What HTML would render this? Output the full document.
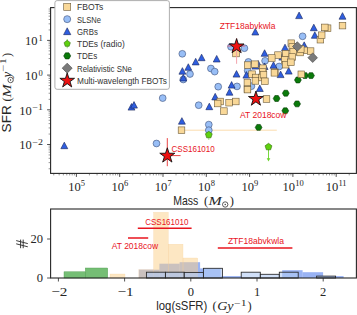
<!DOCTYPE html><html><head><meta charset="utf-8"><style>html,body{margin:0;padding:0;background:#fff;overflow:hidden}svg{display:block}</style></head><body><svg width="357" height="315" viewBox="0 0 357 315">
<rect width="357" height="315" fill="#ffffff"/>
<line x1="181.5" y1="130.2" x2="276.8" y2="130.2" stroke="#fbdcae" stroke-width="1"/>
<line x1="268.5" y1="146.8" x2="268.5" y2="159" stroke="#6ad42a" stroke-width="0.9"/>
<polygon points="266.7,158.3 270.3,158.3 268.5,161.5" fill="#6ad42a"/>
<line x1="208.8" y1="134.8" x2="208.8" y2="140" stroke="#a8e08a" stroke-width="1"/>
<circle cx="162.70" cy="98.10" r="3.4" fill="#98bef6" stroke="#3d4f78" stroke-width="0.6"/>
<circle cx="156.50" cy="143.50" r="3.4" fill="#98bef6" stroke="#3d4f78" stroke-width="0.6"/>
<circle cx="208.80" cy="124.60" r="3.4" fill="#98bef6" stroke="#3d4f78" stroke-width="0.6"/>
<circle cx="208.80" cy="130.20" r="3.4" fill="#98bef6" stroke="#3d4f78" stroke-width="0.6"/>
<circle cx="182.30" cy="53.80" r="3.4" fill="#98bef6" stroke="#3d4f78" stroke-width="0.6"/>
<circle cx="190.00" cy="74.00" r="3.4" fill="#98bef6" stroke="#3d4f78" stroke-width="0.6"/>
<circle cx="183.30" cy="79.50" r="3.4" fill="#98bef6" stroke="#3d4f78" stroke-width="0.6"/>
<circle cx="210.90" cy="68.50" r="3.4" fill="#98bef6" stroke="#3d4f78" stroke-width="0.6"/>
<circle cx="214.70" cy="71.60" r="3.4" fill="#98bef6" stroke="#3d4f78" stroke-width="0.6"/>
<circle cx="218.20" cy="86.70" r="3.4" fill="#98bef6" stroke="#3d4f78" stroke-width="0.6"/>
<circle cx="237.00" cy="86.40" r="3.4" fill="#98bef6" stroke="#3d4f78" stroke-width="0.6"/>
<circle cx="198.70" cy="105.20" r="3.4" fill="#98bef6" stroke="#3d4f78" stroke-width="0.6"/>
<circle cx="231.00" cy="46.80" r="3.4" fill="#98bef6" stroke="#3d4f78" stroke-width="0.6"/>
<circle cx="244.40" cy="48.20" r="3.4" fill="#98bef6" stroke="#3d4f78" stroke-width="0.6"/>
<circle cx="265.10" cy="60.80" r="3.4" fill="#98bef6" stroke="#3d4f78" stroke-width="0.6"/>
<circle cx="248.40" cy="61.90" r="3.4" fill="#98bef6" stroke="#3d4f78" stroke-width="0.6"/>
<circle cx="279.20" cy="66.50" r="3.4" fill="#98bef6" stroke="#3d4f78" stroke-width="0.6"/>
<circle cx="247.70" cy="70.70" r="3.4" fill="#98bef6" stroke="#3d4f78" stroke-width="0.6"/>
<circle cx="302.60" cy="36.30" r="3.4" fill="#98bef6" stroke="#3d4f78" stroke-width="0.6"/>
<circle cx="251.40" cy="86.20" r="3.4" fill="#98bef6" stroke="#3d4f78" stroke-width="0.6"/>
<polygon points="64.30,142.15 60.85,148.70 67.75,148.70" fill="#2f5ee0" stroke="#17255a" stroke-width="0.6"/>
<polygon points="131.50,103.55 128.05,110.11 134.95,110.11" fill="#2f5ee0" stroke="#17255a" stroke-width="0.6"/>
<polygon points="134.00,101.55 130.55,108.11 137.45,108.11" fill="#2f5ee0" stroke="#17255a" stroke-width="0.6"/>
<polygon points="181.90,117.65 178.45,124.20 185.35,124.20" fill="#2f5ee0" stroke="#17255a" stroke-width="0.6"/>
<polygon points="201.60,54.15 198.15,60.70 205.05,60.70" fill="#2f5ee0" stroke="#17255a" stroke-width="0.6"/>
<polygon points="195.70,58.35 192.25,64.91 199.15,64.91" fill="#2f5ee0" stroke="#17255a" stroke-width="0.6"/>
<polygon points="188.30,63.75 184.85,70.31 191.75,70.31" fill="#2f5ee0" stroke="#17255a" stroke-width="0.6"/>
<polygon points="182.40,67.65 178.95,74.20 185.85,74.20" fill="#2f5ee0" stroke="#17255a" stroke-width="0.6"/>
<polygon points="183.30,74.35 179.85,80.91 186.75,80.91" fill="#2f5ee0" stroke="#17255a" stroke-width="0.6"/>
<polygon points="231.60,81.55 228.15,88.11 235.05,88.11" fill="#2f5ee0" stroke="#17255a" stroke-width="0.6"/>
<polygon points="229.50,88.65 226.05,95.20 232.95,95.20" fill="#2f5ee0" stroke="#17255a" stroke-width="0.6"/>
<polygon points="215.20,93.35 211.75,99.91 218.65,99.91" fill="#2f5ee0" stroke="#17255a" stroke-width="0.6"/>
<polygon points="209.30,103.15 205.85,109.70 212.75,109.70" fill="#2f5ee0" stroke="#17255a" stroke-width="0.6"/>
<polygon points="216.70,55.45 213.25,62.00 220.15,62.00" fill="#2f5ee0" stroke="#17255a" stroke-width="0.6"/>
<polygon points="255.30,28.45 251.85,35.00 258.75,35.00" fill="#2f5ee0" stroke="#17255a" stroke-width="0.6"/>
<polygon points="264.60,49.75 261.15,56.31 268.05,56.31" fill="#2f5ee0" stroke="#17255a" stroke-width="0.6"/>
<polygon points="236.50,70.55 233.05,77.11 239.95,77.11" fill="#2f5ee0" stroke="#17255a" stroke-width="0.6"/>
<polygon points="273.50,61.75 270.05,68.31 276.95,68.31" fill="#2f5ee0" stroke="#17255a" stroke-width="0.6"/>
<polygon points="280.60,71.05 277.15,77.61 284.05,77.61" fill="#2f5ee0" stroke="#17255a" stroke-width="0.6"/>
<polygon points="288.70,67.55 285.25,74.11 292.15,74.11" fill="#2f5ee0" stroke="#17255a" stroke-width="0.6"/>
<polygon points="246.40,71.55 242.95,78.11 249.85,78.11" fill="#2f5ee0" stroke="#17255a" stroke-width="0.6"/>
<polygon points="258.20,60.55 254.75,67.11 261.65,67.11" fill="#2f5ee0" stroke="#17255a" stroke-width="0.6"/>
<polygon points="259.80,84.95 256.35,91.51 263.25,91.51" fill="#2f5ee0" stroke="#17255a" stroke-width="0.6"/>
<polygon points="299.10,12.05 295.65,18.61 302.55,18.61" fill="#2f5ee0" stroke="#17255a" stroke-width="0.6"/>
<polygon points="342.50,12.65 339.05,19.21 345.95,19.21" fill="#2f5ee0" stroke="#17255a" stroke-width="0.6"/>
<polygon points="313.80,24.15 310.35,30.71 317.25,30.71" fill="#2f5ee0" stroke="#17255a" stroke-width="0.6"/>
<polygon points="314.80,31.75 311.35,38.31 318.25,38.31" fill="#2f5ee0" stroke="#17255a" stroke-width="0.6"/>
<polygon points="304.20,41.85 300.75,48.41 307.65,48.41" fill="#2f5ee0" stroke="#17255a" stroke-width="0.6"/>
<polygon points="285.00,44.15 281.55,50.70 288.45,50.70" fill="#2f5ee0" stroke="#17255a" stroke-width="0.6"/>
<polygon points="255.40,62.55 251.95,69.11 258.85,69.11" fill="#2f5ee0" stroke="#17255a" stroke-width="0.6"/>
<polygon points="282.30,53.55 278.85,60.11 285.75,60.11" fill="#2f5ee0" stroke="#17255a" stroke-width="0.6"/>
<polygon points="264.60,62.95 261.15,69.51 268.05,69.51" fill="#2f5ee0" stroke="#17255a" stroke-width="0.6"/>
<polygon points="262.00,127.40 260.30,130.34 256.90,130.34 255.20,127.40 256.90,124.46 260.30,124.46" fill="#0a7a0a" stroke="#043a04" stroke-width="0.6"/>
<polygon points="288.70,110.80 287.00,113.74 283.60,113.74 281.90,110.80 283.60,107.86 287.00,107.86" fill="#0a7a0a" stroke="#043a04" stroke-width="0.6"/>
<polygon points="280.00,98.50 278.30,101.44 274.90,101.44 273.20,98.50 274.90,95.56 278.30,95.56" fill="#0a7a0a" stroke="#043a04" stroke-width="0.6"/>
<polygon points="289.20,93.20 287.50,96.14 284.10,96.14 282.40,93.20 284.10,90.26 287.50,90.26" fill="#0a7a0a" stroke="#043a04" stroke-width="0.6"/>
<polygon points="301.30,80.00 299.60,82.94 296.20,82.94 294.50,80.00 296.20,77.06 299.60,77.06" fill="#0a7a0a" stroke="#043a04" stroke-width="0.6"/>
<polygon points="300.50,103.90 298.80,106.84 295.40,106.84 293.70,103.90 295.40,100.96 298.80,100.96" fill="#0a7a0a" stroke="#043a04" stroke-width="0.6"/>
<polygon points="308.40,75.60 306.70,78.54 303.30,78.54 301.60,75.60 303.30,72.66 306.70,72.66" fill="#0a7a0a" stroke="#043a04" stroke-width="0.6"/>
<polygon points="314.40,75.60 312.70,78.54 309.30,78.54 307.60,75.60 309.30,72.66 312.70,72.66" fill="#0a7a0a" stroke="#043a04" stroke-width="0.6"/>
<polygon points="208.80,131.30 212.22,133.79 210.92,137.81 206.68,137.81 205.38,133.79" fill="#5fd10f" stroke="#2f6a08" stroke-width="0.6"/>
<polygon points="268.50,143.30 271.92,145.79 270.62,149.81 266.38,149.81 265.08,145.79" fill="#5fd10f" stroke="#2f6a08" stroke-width="0.6"/>
<rect x="178.20" y="126.90" width="6.6" height="6.6" fill="#f9d898" stroke="#6b5a3a" stroke-width="0.6"/>
<rect x="216.90" y="98.20" width="6.6" height="6.6" fill="#f9d898" stroke="#6b5a3a" stroke-width="0.6"/>
<rect x="214.40" y="100.20" width="6.6" height="6.6" fill="#f9d898" stroke="#6b5a3a" stroke-width="0.6"/>
<rect x="225.80" y="99.40" width="6.6" height="6.6" fill="#f9d898" stroke="#6b5a3a" stroke-width="0.6"/>
<rect x="232.50" y="98.20" width="6.6" height="6.6" fill="#f9d898" stroke="#6b5a3a" stroke-width="0.6"/>
<rect x="220.60" y="107.80" width="6.6" height="6.6" fill="#f9d898" stroke="#6b5a3a" stroke-width="0.6"/>
<rect x="244.10" y="85.90" width="6.6" height="6.6" fill="#f9d898" stroke="#6b5a3a" stroke-width="0.6"/>
<rect x="232.70" y="50.20" width="6.6" height="6.6" fill="#f9d898" stroke="#6b5a3a" stroke-width="0.6"/>
<rect x="271.60" y="68.90" width="6.6" height="6.6" fill="#f9d898" stroke="#6b5a3a" stroke-width="0.6"/>
<rect x="339.20" y="22.30" width="6.6" height="6.6" fill="#f9d898" stroke="#6b5a3a" stroke-width="0.6"/>
<rect x="324.30" y="24.90" width="6.6" height="6.6" fill="#f9d898" stroke="#6b5a3a" stroke-width="0.6"/>
<rect x="321.50" y="24.10" width="6.6" height="6.6" fill="#f9d898" stroke="#6b5a3a" stroke-width="0.6"/>
<rect x="317.10" y="36.40" width="6.6" height="6.6" fill="#f9d898" stroke="#6b5a3a" stroke-width="0.6"/>
<rect x="318.40" y="31.90" width="6.6" height="6.6" fill="#f9d898" stroke="#6b5a3a" stroke-width="0.6"/>
<rect x="301.00" y="47.10" width="6.6" height="6.6" fill="#f9d898" stroke="#6b5a3a" stroke-width="0.6"/>
<rect x="307.30" y="47.80" width="6.6" height="6.6" fill="#f9d898" stroke="#6b5a3a" stroke-width="0.6"/>
<rect x="296.80" y="49.20" width="6.6" height="6.6" fill="#f9d898" stroke="#6b5a3a" stroke-width="0.6"/>
<rect x="297.50" y="45.70" width="6.6" height="6.6" fill="#f9d898" stroke="#6b5a3a" stroke-width="0.6"/>
<rect x="298.00" y="71.00" width="6.6" height="6.6" fill="#f9d898" stroke="#6b5a3a" stroke-width="0.6"/>
<rect x="263.20" y="95.70" width="6.6" height="6.6" fill="#f9d898" stroke="#6b5a3a" stroke-width="0.6"/>
<rect x="271.10" y="69.50" width="6.6" height="6.6" fill="#f9d898" stroke="#6b5a3a" stroke-width="0.6"/>
<rect x="244.20" y="86.30" width="6.6" height="6.6" fill="#f9d898" stroke="#6b5a3a" stroke-width="0.6"/>
<rect x="244.30" y="61.80" width="6.6" height="6.6" fill="#f9d898" stroke="#6b5a3a" stroke-width="0.6"/>
<rect x="251.60" y="60.90" width="6.6" height="6.6" fill="#f9d898" stroke="#6b5a3a" stroke-width="0.6"/>
<rect x="259.60" y="64.90" width="6.6" height="6.6" fill="#f9d898" stroke="#6b5a3a" stroke-width="0.6"/>
<rect x="259.30" y="68.70" width="6.6" height="6.6" fill="#f9d898" stroke="#6b5a3a" stroke-width="0.6"/>
<rect x="248.70" y="70.90" width="6.6" height="6.6" fill="#f9d898" stroke="#6b5a3a" stroke-width="0.6"/>
<rect x="252.60" y="74.20" width="6.6" height="6.6" fill="#f9d898" stroke="#6b5a3a" stroke-width="0.6"/>
<rect x="258.30" y="74.20" width="6.6" height="6.6" fill="#f9d898" stroke="#6b5a3a" stroke-width="0.6"/>
<rect x="260.20" y="71.40" width="6.6" height="6.6" fill="#f9d898" stroke="#6b5a3a" stroke-width="0.6"/>
<rect x="261.60" y="78.00" width="6.6" height="6.6" fill="#f9d898" stroke="#6b5a3a" stroke-width="0.6"/>
<rect x="244.10" y="79.20" width="6.6" height="6.6" fill="#f9d898" stroke="#6b5a3a" stroke-width="0.6"/>
<rect x="252.10" y="77.60" width="6.6" height="6.6" fill="#f9d898" stroke="#6b5a3a" stroke-width="0.6"/>
<rect x="288.00" y="39.90" width="6.6" height="6.6" fill="#f9d898" stroke="#6b5a3a" stroke-width="0.6"/>
<rect x="289.00" y="43.70" width="6.6" height="6.6" fill="#f9d898" stroke="#6b5a3a" stroke-width="0.6"/>
<rect x="289.90" y="48.50" width="6.6" height="6.6" fill="#f9d898" stroke="#6b5a3a" stroke-width="0.6"/>
<rect x="282.30" y="50.40" width="6.6" height="6.6" fill="#f9d898" stroke="#6b5a3a" stroke-width="0.6"/>
<rect x="274.70" y="51.80" width="6.6" height="6.6" fill="#f9d898" stroke="#6b5a3a" stroke-width="0.6"/>
<rect x="268.50" y="54.70" width="6.6" height="6.6" fill="#f9d898" stroke="#6b5a3a" stroke-width="0.6"/>
<rect x="281.40" y="56.60" width="6.6" height="6.6" fill="#f9d898" stroke="#6b5a3a" stroke-width="0.6"/>
<rect x="289.00" y="53.70" width="6.6" height="6.6" fill="#f9d898" stroke="#6b5a3a" stroke-width="0.6"/>
<rect x="282.30" y="61.40" width="6.6" height="6.6" fill="#f9d898" stroke="#6b5a3a" stroke-width="0.6"/>
<rect x="287.60" y="59.00" width="6.6" height="6.6" fill="#f9d898" stroke="#6b5a3a" stroke-width="0.6"/>
<polygon points="297.3,41.7 302.1,46.5 297.3,51.3 292.5,46.5" fill="#7a7a7a" stroke="#444444" stroke-width="0.6"/>
<polygon points="312.7,52.900000000000006 317.5,57.7 312.7,62.5 307.9,57.7" fill="#7a7a7a" stroke="#444444" stroke-width="0.6"/>
<line x1="167.3" y1="138.1" x2="167.3" y2="166.2" stroke="#e83030" stroke-width="0.9"/>
<line x1="167.3" y1="155.6" x2="180.6" y2="155.6" stroke="#e83030" stroke-width="0.9"/>
<line x1="236.6" y1="38" x2="236.6" y2="63.8" stroke="#f29aa4" stroke-width="0.9"/>
<line x1="227.4" y1="46" x2="245.2" y2="46" stroke="#e0607a" stroke-width="0.9"/>
<polygon points="167.30,147.80 169.07,153.26 174.81,153.26 170.17,156.63 171.94,162.09 167.30,158.72 162.66,162.09 164.43,156.63 159.79,153.26 165.53,153.26" fill="#ee1111" stroke="#111111" stroke-width="0.9"/>
<polygon points="236.60,38.60 238.35,43.99 244.02,43.99 239.43,47.32 241.18,52.71 236.60,49.38 232.02,52.71 233.77,47.32 229.18,43.99 234.85,43.99" fill="#ee1111" stroke="#111111" stroke-width="0.9"/>
<polygon points="255.90,91.10 257.65,96.49 263.32,96.49 258.73,99.82 260.48,105.21 255.90,101.88 251.32,105.21 253.07,99.82 248.48,96.49 254.15,96.49" fill="#ee1111" stroke="#111111" stroke-width="0.9"/>
<text x="171.5" y="151.9" font-family="Liberation Sans" font-size="9.9" fill="#e8141e" textLength="43.2" lengthAdjust="spacingAndGlyphs">CSS161010</text>
<text x="219.7" y="28.9" font-family="Liberation Sans" font-size="9.4" fill="#e8141e" textLength="55.8" lengthAdjust="spacingAndGlyphs">ZTF18abvkwla</text>
<text x="240" y="118.2" font-family="Liberation Sans" font-size="9.4" fill="#e8141e" textLength="46.5" lengthAdjust="spacingAndGlyphs">AT 2018cow</text>
<rect x="50.6" y="7.6" width="305.79999999999995" height="165.8" fill="none" stroke="#262626" stroke-width="1.1"/>
<line x1="76.40" y1="173.4" x2="76.40" y2="176.9" stroke="#262626" stroke-width="0.8"/>
<line x1="89.43" y1="173.4" x2="89.43" y2="175.4" stroke="#333" stroke-width="0.5"/>
<line x1="97.06" y1="173.4" x2="97.06" y2="175.4" stroke="#333" stroke-width="0.5"/>
<line x1="102.47" y1="173.4" x2="102.47" y2="175.4" stroke="#333" stroke-width="0.5"/>
<line x1="106.67" y1="173.4" x2="106.67" y2="175.4" stroke="#333" stroke-width="0.5"/>
<line x1="110.09" y1="173.4" x2="110.09" y2="175.4" stroke="#333" stroke-width="0.5"/>
<line x1="112.99" y1="173.4" x2="112.99" y2="175.4" stroke="#333" stroke-width="0.5"/>
<line x1="115.50" y1="173.4" x2="115.50" y2="175.4" stroke="#333" stroke-width="0.5"/>
<line x1="117.72" y1="173.4" x2="117.72" y2="175.4" stroke="#333" stroke-width="0.5"/>
<line x1="53.76" y1="173.4" x2="53.76" y2="175.4" stroke="#333" stroke-width="0.5"/>
<line x1="59.17" y1="173.4" x2="59.17" y2="175.4" stroke="#333" stroke-width="0.5"/>
<line x1="63.37" y1="173.4" x2="63.37" y2="175.4" stroke="#333" stroke-width="0.5"/>
<line x1="66.79" y1="173.4" x2="66.79" y2="175.4" stroke="#333" stroke-width="0.5"/>
<line x1="69.69" y1="173.4" x2="69.69" y2="175.4" stroke="#333" stroke-width="0.5"/>
<line x1="72.20" y1="173.4" x2="72.20" y2="175.4" stroke="#333" stroke-width="0.5"/>
<line x1="74.42" y1="173.4" x2="74.42" y2="175.4" stroke="#333" stroke-width="0.5"/>
<text x="68.20" y="190.8" font-family="Liberation Serif" font-size="12.5" fill="#262626">10</text>
<text x="80.80" y="186.2" font-family="Liberation Serif" font-size="8.5" fill="#262626">5</text>
<line x1="119.70" y1="173.4" x2="119.70" y2="176.9" stroke="#262626" stroke-width="0.8"/>
<line x1="132.73" y1="173.4" x2="132.73" y2="175.4" stroke="#333" stroke-width="0.5"/>
<line x1="140.36" y1="173.4" x2="140.36" y2="175.4" stroke="#333" stroke-width="0.5"/>
<line x1="145.77" y1="173.4" x2="145.77" y2="175.4" stroke="#333" stroke-width="0.5"/>
<line x1="149.97" y1="173.4" x2="149.97" y2="175.4" stroke="#333" stroke-width="0.5"/>
<line x1="153.39" y1="173.4" x2="153.39" y2="175.4" stroke="#333" stroke-width="0.5"/>
<line x1="156.29" y1="173.4" x2="156.29" y2="175.4" stroke="#333" stroke-width="0.5"/>
<line x1="158.80" y1="173.4" x2="158.80" y2="175.4" stroke="#333" stroke-width="0.5"/>
<line x1="161.02" y1="173.4" x2="161.02" y2="175.4" stroke="#333" stroke-width="0.5"/>
<text x="111.50" y="190.8" font-family="Liberation Serif" font-size="12.5" fill="#262626">10</text>
<text x="124.10" y="186.2" font-family="Liberation Serif" font-size="8.5" fill="#262626">6</text>
<line x1="163.00" y1="173.4" x2="163.00" y2="176.9" stroke="#262626" stroke-width="0.8"/>
<line x1="176.03" y1="173.4" x2="176.03" y2="175.4" stroke="#333" stroke-width="0.5"/>
<line x1="183.66" y1="173.4" x2="183.66" y2="175.4" stroke="#333" stroke-width="0.5"/>
<line x1="189.07" y1="173.4" x2="189.07" y2="175.4" stroke="#333" stroke-width="0.5"/>
<line x1="193.27" y1="173.4" x2="193.27" y2="175.4" stroke="#333" stroke-width="0.5"/>
<line x1="196.69" y1="173.4" x2="196.69" y2="175.4" stroke="#333" stroke-width="0.5"/>
<line x1="199.59" y1="173.4" x2="199.59" y2="175.4" stroke="#333" stroke-width="0.5"/>
<line x1="202.10" y1="173.4" x2="202.10" y2="175.4" stroke="#333" stroke-width="0.5"/>
<line x1="204.32" y1="173.4" x2="204.32" y2="175.4" stroke="#333" stroke-width="0.5"/>
<text x="154.80" y="190.8" font-family="Liberation Serif" font-size="12.5" fill="#262626">10</text>
<text x="167.40" y="186.2" font-family="Liberation Serif" font-size="8.5" fill="#262626">7</text>
<line x1="206.30" y1="173.4" x2="206.30" y2="176.9" stroke="#262626" stroke-width="0.8"/>
<line x1="219.33" y1="173.4" x2="219.33" y2="175.4" stroke="#333" stroke-width="0.5"/>
<line x1="226.96" y1="173.4" x2="226.96" y2="175.4" stroke="#333" stroke-width="0.5"/>
<line x1="232.37" y1="173.4" x2="232.37" y2="175.4" stroke="#333" stroke-width="0.5"/>
<line x1="236.57" y1="173.4" x2="236.57" y2="175.4" stroke="#333" stroke-width="0.5"/>
<line x1="239.99" y1="173.4" x2="239.99" y2="175.4" stroke="#333" stroke-width="0.5"/>
<line x1="242.89" y1="173.4" x2="242.89" y2="175.4" stroke="#333" stroke-width="0.5"/>
<line x1="245.40" y1="173.4" x2="245.40" y2="175.4" stroke="#333" stroke-width="0.5"/>
<line x1="247.62" y1="173.4" x2="247.62" y2="175.4" stroke="#333" stroke-width="0.5"/>
<text x="198.10" y="190.8" font-family="Liberation Serif" font-size="12.5" fill="#262626">10</text>
<text x="210.70" y="186.2" font-family="Liberation Serif" font-size="8.5" fill="#262626">8</text>
<line x1="249.60" y1="173.4" x2="249.60" y2="176.9" stroke="#262626" stroke-width="0.8"/>
<line x1="262.63" y1="173.4" x2="262.63" y2="175.4" stroke="#333" stroke-width="0.5"/>
<line x1="270.26" y1="173.4" x2="270.26" y2="175.4" stroke="#333" stroke-width="0.5"/>
<line x1="275.67" y1="173.4" x2="275.67" y2="175.4" stroke="#333" stroke-width="0.5"/>
<line x1="279.87" y1="173.4" x2="279.87" y2="175.4" stroke="#333" stroke-width="0.5"/>
<line x1="283.29" y1="173.4" x2="283.29" y2="175.4" stroke="#333" stroke-width="0.5"/>
<line x1="286.19" y1="173.4" x2="286.19" y2="175.4" stroke="#333" stroke-width="0.5"/>
<line x1="288.70" y1="173.4" x2="288.70" y2="175.4" stroke="#333" stroke-width="0.5"/>
<line x1="290.92" y1="173.4" x2="290.92" y2="175.4" stroke="#333" stroke-width="0.5"/>
<text x="241.40" y="190.8" font-family="Liberation Serif" font-size="12.5" fill="#262626">10</text>
<text x="254.00" y="186.2" font-family="Liberation Serif" font-size="8.5" fill="#262626">9</text>
<line x1="292.90" y1="173.4" x2="292.90" y2="176.9" stroke="#262626" stroke-width="0.8"/>
<line x1="305.93" y1="173.4" x2="305.93" y2="175.4" stroke="#333" stroke-width="0.5"/>
<line x1="313.56" y1="173.4" x2="313.56" y2="175.4" stroke="#333" stroke-width="0.5"/>
<line x1="318.97" y1="173.4" x2="318.97" y2="175.4" stroke="#333" stroke-width="0.5"/>
<line x1="323.17" y1="173.4" x2="323.17" y2="175.4" stroke="#333" stroke-width="0.5"/>
<line x1="326.59" y1="173.4" x2="326.59" y2="175.4" stroke="#333" stroke-width="0.5"/>
<line x1="329.49" y1="173.4" x2="329.49" y2="175.4" stroke="#333" stroke-width="0.5"/>
<line x1="332.00" y1="173.4" x2="332.00" y2="175.4" stroke="#333" stroke-width="0.5"/>
<line x1="334.22" y1="173.4" x2="334.22" y2="175.4" stroke="#333" stroke-width="0.5"/>
<text x="282.55" y="190.8" font-family="Liberation Serif" font-size="12.5" fill="#262626">10</text>
<text x="295.15" y="186.2" font-family="Liberation Serif" font-size="8.5" fill="#262626">10</text>
<line x1="336.20" y1="173.4" x2="336.20" y2="176.9" stroke="#262626" stroke-width="0.8"/>
<line x1="349.23" y1="173.4" x2="349.23" y2="175.4" stroke="#333" stroke-width="0.5"/>
<text x="325.85" y="190.8" font-family="Liberation Serif" font-size="12.5" fill="#262626">10</text>
<text x="338.45" y="186.2" font-family="Liberation Serif" font-size="8.5" fill="#262626">11</text>
<line x1="48.6" y1="168.75" x2="50.6" y2="168.75" stroke="#333" stroke-width="0.5"/>
<line x1="48.6" y1="162.64" x2="50.6" y2="162.64" stroke="#333" stroke-width="0.5"/>
<line x1="48.6" y1="158.31" x2="50.6" y2="158.31" stroke="#333" stroke-width="0.5"/>
<line x1="48.6" y1="154.95" x2="50.6" y2="154.95" stroke="#333" stroke-width="0.5"/>
<line x1="48.6" y1="152.20" x2="50.6" y2="152.20" stroke="#333" stroke-width="0.5"/>
<line x1="48.6" y1="149.88" x2="50.6" y2="149.88" stroke="#333" stroke-width="0.5"/>
<line x1="48.6" y1="147.86" x2="50.6" y2="147.86" stroke="#333" stroke-width="0.5"/>
<line x1="48.6" y1="146.09" x2="50.6" y2="146.09" stroke="#333" stroke-width="0.5"/>
<line x1="47.1" y1="144.50" x2="50.6" y2="144.50" stroke="#262626" stroke-width="0.8"/>
<line x1="48.6" y1="134.05" x2="50.6" y2="134.05" stroke="#333" stroke-width="0.5"/>
<line x1="48.6" y1="127.94" x2="50.6" y2="127.94" stroke="#333" stroke-width="0.5"/>
<line x1="48.6" y1="123.61" x2="50.6" y2="123.61" stroke="#333" stroke-width="0.5"/>
<line x1="48.6" y1="120.25" x2="50.6" y2="120.25" stroke="#333" stroke-width="0.5"/>
<line x1="48.6" y1="117.50" x2="50.6" y2="117.50" stroke="#333" stroke-width="0.5"/>
<line x1="48.6" y1="115.18" x2="50.6" y2="115.18" stroke="#333" stroke-width="0.5"/>
<line x1="48.6" y1="113.16" x2="50.6" y2="113.16" stroke="#333" stroke-width="0.5"/>
<line x1="48.6" y1="111.39" x2="50.6" y2="111.39" stroke="#333" stroke-width="0.5"/>
<line x1="47.1" y1="109.80" x2="50.6" y2="109.80" stroke="#262626" stroke-width="0.8"/>
<line x1="48.6" y1="99.35" x2="50.6" y2="99.35" stroke="#333" stroke-width="0.5"/>
<line x1="48.6" y1="93.24" x2="50.6" y2="93.24" stroke="#333" stroke-width="0.5"/>
<line x1="48.6" y1="88.91" x2="50.6" y2="88.91" stroke="#333" stroke-width="0.5"/>
<line x1="48.6" y1="85.55" x2="50.6" y2="85.55" stroke="#333" stroke-width="0.5"/>
<line x1="48.6" y1="82.80" x2="50.6" y2="82.80" stroke="#333" stroke-width="0.5"/>
<line x1="48.6" y1="80.48" x2="50.6" y2="80.48" stroke="#333" stroke-width="0.5"/>
<line x1="48.6" y1="78.46" x2="50.6" y2="78.46" stroke="#333" stroke-width="0.5"/>
<line x1="48.6" y1="76.69" x2="50.6" y2="76.69" stroke="#333" stroke-width="0.5"/>
<line x1="47.1" y1="75.10" x2="50.6" y2="75.10" stroke="#262626" stroke-width="0.8"/>
<line x1="48.6" y1="64.65" x2="50.6" y2="64.65" stroke="#333" stroke-width="0.5"/>
<line x1="48.6" y1="58.54" x2="50.6" y2="58.54" stroke="#333" stroke-width="0.5"/>
<line x1="48.6" y1="54.21" x2="50.6" y2="54.21" stroke="#333" stroke-width="0.5"/>
<line x1="48.6" y1="50.85" x2="50.6" y2="50.85" stroke="#333" stroke-width="0.5"/>
<line x1="48.6" y1="48.10" x2="50.6" y2="48.10" stroke="#333" stroke-width="0.5"/>
<line x1="48.6" y1="45.78" x2="50.6" y2="45.78" stroke="#333" stroke-width="0.5"/>
<line x1="48.6" y1="43.76" x2="50.6" y2="43.76" stroke="#333" stroke-width="0.5"/>
<line x1="48.6" y1="41.99" x2="50.6" y2="41.99" stroke="#333" stroke-width="0.5"/>
<line x1="47.1" y1="40.40" x2="50.6" y2="40.40" stroke="#262626" stroke-width="0.8"/>
<line x1="48.6" y1="29.95" x2="50.6" y2="29.95" stroke="#333" stroke-width="0.5"/>
<line x1="48.6" y1="23.84" x2="50.6" y2="23.84" stroke="#333" stroke-width="0.5"/>
<line x1="48.6" y1="19.51" x2="50.6" y2="19.51" stroke="#333" stroke-width="0.5"/>
<line x1="48.6" y1="16.15" x2="50.6" y2="16.15" stroke="#333" stroke-width="0.5"/>
<line x1="48.6" y1="13.40" x2="50.6" y2="13.40" stroke="#333" stroke-width="0.5"/>
<line x1="48.6" y1="11.08" x2="50.6" y2="11.08" stroke="#333" stroke-width="0.5"/>
<line x1="48.6" y1="9.06" x2="50.6" y2="9.06" stroke="#333" stroke-width="0.5"/>
<text x="37.60" y="45.30" font-family="Liberation Serif" font-size="12.5" fill="#262626" text-anchor="end">10</text>
<text x="38.40" y="40.80" font-family="Liberation Serif" font-size="8.5" fill="#262626">1</text>
<text x="37.60" y="80.00" font-family="Liberation Serif" font-size="12.5" fill="#262626" text-anchor="end">10</text>
<text x="38.40" y="75.50" font-family="Liberation Serif" font-size="8.5" fill="#262626">0</text>
<text x="31.70" y="114.70" font-family="Liberation Serif" font-size="12.5" fill="#262626" text-anchor="end">10</text>
<text x="32.50" y="110.20" font-family="Liberation Serif" font-size="8.5" fill="#262626" textLength="10.6" lengthAdjust="spacingAndGlyphs">−1</text>
<text x="31.70" y="149.40" font-family="Liberation Serif" font-size="12.5" fill="#262626" text-anchor="end">10</text>
<text x="32.50" y="144.90" font-family="Liberation Serif" font-size="8.5" fill="#262626" textLength="10.6" lengthAdjust="spacingAndGlyphs">−2</text>
<text x="173.3" y="204.9" font-family="Liberation Sans" font-size="12.4" fill="#262626" textLength="25" lengthAdjust="spacingAndGlyphs">Mass</text>
<text x="204.0" y="204.9" font-family="Liberation Serif" font-size="12.5" fill="#262626">(</text>
<text x="208.6" y="204.9" font-family="Liberation Serif" font-style="italic" font-size="12.8" fill="#262626" textLength="13.2" lengthAdjust="spacingAndGlyphs">M</text>
<circle cx="225.20" cy="204.50" r="2.7" fill="none" stroke="#262626" stroke-width="0.75"/>
<circle cx="225.20" cy="204.50" r="0.65" fill="#262626"/>
<text x="229.8" y="204.9" font-family="Liberation Serif" font-size="12.5" fill="#262626">)</text>
<g transform="translate(11.0,132.4) rotate(-90)">
<text x="0" y="0" font-family="Liberation Sans" font-size="12.4" fill="#262626" textLength="27.2" lengthAdjust="spacingAndGlyphs">SFR</text>
<text x="30.8" y="0" font-family="Liberation Serif" font-size="12.5" fill="#262626">(</text>
<text x="35.0" y="0" font-family="Liberation Serif" font-style="italic" font-size="12.8" fill="#262626" textLength="13.2" lengthAdjust="spacingAndGlyphs">M</text>
<circle cx="52.40" cy="-0.40" r="2.7" fill="none" stroke="#262626" stroke-width="0.75"/>
<circle cx="52.40" cy="-0.40" r="0.65" fill="#262626"/>
<text x="55.0" y="0" font-family="Liberation Serif" font-style="italic" font-size="12.8" fill="#262626">y</text>
<text x="61.0" y="-4.8" font-family="Liberation Serif" font-size="8.5" fill="#262626" textLength="13.4" lengthAdjust="spacingAndGlyphs">−1</text>
<text x="75.4" y="0" font-family="Liberation Serif" font-size="12.5" fill="#262626">)</text>
</g>
<rect x="54.9" y="0.6" width="114.5" height="88.7" rx="2.2" fill="#ffffff" stroke="#aaaaaa" stroke-width="0.95"/>
<rect x="63.70" y="3.40" width="7" height="7" fill="#f9d898" stroke="#6b5a3a" stroke-width="0.6"/>
<text x="77" y="10.40" font-family="Liberation Sans" font-size="9.3" fill="#333333" textLength="26.2" lengthAdjust="spacingAndGlyphs">FBOTs</text>
<circle cx="67.20" cy="19.15" r="3.5" fill="#98bef6" stroke="#3d4f78" stroke-width="0.6"/>
<text x="77" y="22.65" font-family="Liberation Sans" font-size="9.3" fill="#333333" textLength="24.0" lengthAdjust="spacingAndGlyphs">SLSNe</text>
<polygon points="67.20,27.80 63.60,34.64 70.80,34.64" fill="#2f5ee0" stroke="#17255a" stroke-width="0.6"/>
<text x="77" y="34.90" font-family="Liberation Sans" font-size="9.3" fill="#333333" textLength="20.8" lengthAdjust="spacingAndGlyphs">GRBs</text>
<line x1="67.2" y1="39.05" x2="67.2" y2="48.25" stroke="#8ad860" stroke-width="0.9"/>
<polygon points="67.20,40.35 70.34,42.63 69.14,46.32 65.26,46.32 64.06,42.63" fill="#5fd10f" stroke="#2f6a08" stroke-width="0.6"/>
<text x="77" y="47.15" font-family="Liberation Sans" font-size="9.3" fill="#333333" textLength="47.8" lengthAdjust="spacingAndGlyphs">TDEs (radio)</text>
<polygon points="70.70,55.90 68.95,58.93 65.45,58.93 63.70,55.90 65.45,52.87 68.95,52.87" fill="#0a7a0a" stroke="#043a04" stroke-width="0.6"/>
<text x="77" y="59.40" font-family="Liberation Sans" font-size="9.3" fill="#333333" textLength="20.2" lengthAdjust="spacingAndGlyphs">TDEs</text>
<polygon points="67.2,63.150000000000006 72.2,68.15 67.2,73.15 62.2,68.15" fill="#7a7a7a" stroke="#444444" stroke-width="0.6"/>
<text x="77" y="71.65" font-family="Liberation Sans" font-size="9.3" fill="#333333" textLength="55.0" lengthAdjust="spacingAndGlyphs">Relativistic SNe</text>
<polygon points="67.20,73.00 68.93,78.32 74.52,78.32 70.00,81.61 71.73,86.93 67.20,83.64 62.67,86.93 64.40,81.61 59.88,78.32 65.47,78.32" fill="#ee1111" stroke="#111111" stroke-width="0.9"/>
<text x="77" y="83.90" font-family="Liberation Sans" font-size="9.3" fill="#333333" textLength="89.8" lengthAdjust="spacingAndGlyphs">Multi-wavelength FBOTs</text>
<rect x="138.90" y="269.70" width="20.50" height="8.30" fill="#5a84ee" fill-opacity="0.62" stroke="none" stroke-width="0"/>
<rect x="159.40" y="263.70" width="20.20" height="14.30" fill="#5a84ee" fill-opacity="0.62" stroke="none" stroke-width="0"/>
<rect x="179.60" y="262.20" width="20.50" height="15.80" fill="#5a84ee" fill-opacity="0.62" stroke="none" stroke-width="0"/>
<rect x="200.10" y="268.40" width="20.60" height="9.60" fill="#5a84ee" fill-opacity="0.62" stroke="none" stroke-width="0"/>
<rect x="220.70" y="276.10" width="20.50" height="1.90" fill="#5a84ee" fill-opacity="0.62" stroke="none" stroke-width="0"/>
<rect x="282.20" y="270.20" width="20.40" height="7.80" fill="#5a84ee" fill-opacity="0.62" stroke="none" stroke-width="0"/>
<rect x="302.60" y="272.20" width="20.50" height="5.80" fill="#5a84ee" fill-opacity="0.62" stroke="none" stroke-width="0"/>
<rect x="323.10" y="276.10" width="20.50" height="1.90" fill="#5a84ee" fill-opacity="0.62" stroke="none" stroke-width="0"/>
<rect x="110.00" y="274.00" width="15.00" height="4.00" fill="#fbcf88" fill-opacity="0.5" stroke="#f7d09a" stroke-width="0.25"/>
<rect x="138.90" y="269.70" width="14.70" height="8.30" fill="#fbcf88" fill-opacity="0.5" stroke="#f7d09a" stroke-width="0.25"/>
<rect x="153.60" y="212.30" width="14.70" height="65.70" fill="#fbcf88" fill-opacity="0.5" stroke="#f7d09a" stroke-width="0.25"/>
<rect x="168.30" y="244.20" width="14.70" height="33.80" fill="#fbcf88" fill-opacity="0.5" stroke="#f7d09a" stroke-width="0.25"/>
<rect x="183.00" y="258.00" width="14.70" height="20.00" fill="#fbcf88" fill-opacity="0.5" stroke="#f7d09a" stroke-width="0.25"/>
<rect x="146.40" y="272.20" width="19.00" height="5.80" fill="#b3cbf3" fill-opacity="0.6" stroke="#262626" stroke-width="0.85"/>
<rect x="165.40" y="272.20" width="18.80" height="5.80" fill="#b3cbf3" fill-opacity="0.6" stroke="#262626" stroke-width="0.85"/>
<rect x="184.20" y="272.40" width="19.20" height="5.60" fill="#b3cbf3" fill-opacity="0.6" stroke="#262626" stroke-width="0.85"/>
<rect x="203.40" y="268.30" width="19.00" height="9.70" fill="#b3cbf3" fill-opacity="0.6" stroke="#262626" stroke-width="0.85"/>
<rect x="241.20" y="272.20" width="19.10" height="5.80" fill="#b3cbf3" fill-opacity="0.6" stroke="#262626" stroke-width="0.85"/>
<rect x="260.30" y="274.30" width="19.00" height="3.70" fill="#b3cbf3" fill-opacity="0.6" stroke="#262626" stroke-width="0.85"/>
<rect x="279.30" y="272.20" width="18.90" height="5.80" fill="#b3cbf3" fill-opacity="0.6" stroke="#262626" stroke-width="0.85"/>
<rect x="316.60" y="276.10" width="19.00" height="1.90" fill="#b3cbf3" fill-opacity="0.6" stroke="#262626" stroke-width="0.85"/>
<rect x="64.00" y="271.80" width="21.30" height="6.20" fill="#5db35d" fill-opacity="0.85" stroke="#4a9a4a" stroke-width="0.4"/>
<rect x="85.30" y="268.00" width="22.40" height="10.00" fill="#5db35d" fill-opacity="0.85" stroke="#4a9a4a" stroke-width="0.4"/>
<line x1="137.8" y1="228.2" x2="191.6" y2="228.2" stroke="#e8141e" stroke-width="1.5"/>
<text x="145.2" y="224.8" font-family="Liberation Sans" font-size="9.9" fill="#e8141e" textLength="43.2" lengthAdjust="spacingAndGlyphs">CSS161010</text>
<line x1="128" y1="238" x2="148.2" y2="238" stroke="#e8141e" stroke-width="1.5"/>
<text x="111.8" y="249" font-family="Liberation Sans" font-size="9.4" fill="#e8141e" textLength="46.2" lengthAdjust="spacingAndGlyphs">AT 2018cow</text>
<line x1="217.8" y1="247.9" x2="292.4" y2="247.9" stroke="#e8141e" stroke-width="1.5"/>
<text x="227.9" y="244.2" font-family="Liberation Sans" font-size="9.4" fill="#e8141e" textLength="56.1" lengthAdjust="spacingAndGlyphs">ZTF18abvkwla</text>
<rect x="50.6" y="209" width="305.79999999999995" height="69" fill="none" stroke="#262626" stroke-width="1.1"/>
<line x1="58.40" y1="278" x2="58.40" y2="281.5" stroke="#262626" stroke-width="0.8"/>
<text x="51.20" y="296" font-family="Liberation Serif" font-size="12.5" fill="#262626" textLength="16.2" lengthAdjust="spacingAndGlyphs">−2</text>
<line x1="124.60" y1="278" x2="124.60" y2="281.5" stroke="#262626" stroke-width="0.8"/>
<text x="117.40" y="296" font-family="Liberation Serif" font-size="12.5" fill="#262626" textLength="16.2" lengthAdjust="spacingAndGlyphs">−1</text>
<line x1="190.80" y1="278" x2="190.80" y2="281.5" stroke="#262626" stroke-width="0.8"/>
<text x="190.80" y="296" font-family="Liberation Serif" font-size="12.5" fill="#262626" text-anchor="middle">0</text>
<line x1="257.00" y1="278" x2="257.00" y2="281.5" stroke="#262626" stroke-width="0.8"/>
<text x="257.00" y="296" font-family="Liberation Serif" font-size="12.5" fill="#262626" text-anchor="middle">1</text>
<line x1="323.20" y1="278" x2="323.20" y2="281.5" stroke="#262626" stroke-width="0.8"/>
<text x="323.20" y="296" font-family="Liberation Serif" font-size="12.5" fill="#262626" text-anchor="middle">2</text>
<line x1="47.1" y1="278.00" x2="50.6" y2="278.00" stroke="#262626" stroke-width="0.8"/>
<text x="42.9" y="282.40" font-family="Liberation Serif" font-size="12.5" fill="#262626" text-anchor="end">0</text>
<line x1="47.1" y1="239.00" x2="50.6" y2="239.00" stroke="#262626" stroke-width="0.8"/>
<text x="42.9" y="243.40" font-family="Liberation Serif" font-size="12.5" fill="#262626" text-anchor="end">20</text>
<text x="156.3" y="310.4" font-family="Liberation Sans" font-size="12.4" fill="#262626" textLength="51" lengthAdjust="spacingAndGlyphs">log(sSFR)</text>
<text x="212.6" y="310.4" font-family="Liberation Serif" font-size="12.5" fill="#262626">(</text>
<text x="217.2" y="310.4" font-family="Liberation Serif" font-style="italic" font-size="12.8" fill="#262626" textLength="16.4" lengthAdjust="spacingAndGlyphs">Gy</text>
<text x="234.2" y="305.6" font-family="Liberation Serif" font-size="8.5" fill="#262626" textLength="12.4" lengthAdjust="spacingAndGlyphs">−1</text>
<text x="247.6" y="310.4" font-family="Liberation Serif" font-size="12.5" fill="#262626">)</text>
<path d="M20.6,239.6 L20.6,248.2 M23.2,239.6 L23.2,248.2 M16.2,240.6 L27.8,243.6 M16.2,243.8 L27.8,246.8" stroke="#333" stroke-width="0.95" fill="none"/>
</svg></body></html>
